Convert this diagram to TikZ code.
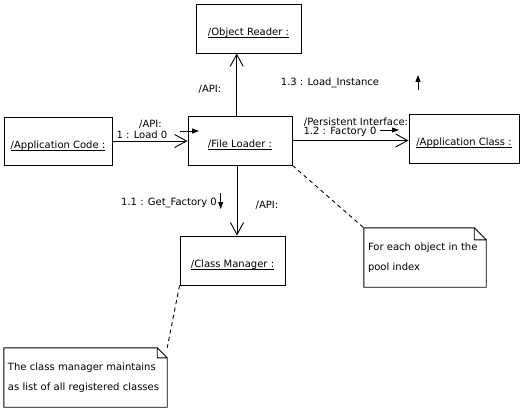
\documentclass[tikz,border=0pt]{standalone}
\usepackage{fontspec}
\setmainfont{DejaVu Sans}
\usetikzlibrary{arrows.meta}
\newlength{\objwd}
\newcommand{\objname}[1]{\settowidth{\objwd}{#1}%
    \raisebox{-4.5pt}[\height][\depth]{#1\llap{\rule[-2.4pt]{\objwd}{0.8pt}}}}

\begin{document}
\begin{tikzpicture}[x=1pt,y=-1pt,
    every node/.style={font=\fontsize{10}{12}\selectfont},
    objbox/.style={draw, line width=0.9pt, minimum height=49pt, inner sep=0pt},
    link/.style={line width=0.9pt, -{Straight Barb[length=12pt,width=13pt,line width=0.9pt]}},
    msgarrow/.style={line width=0.9pt, -{Triangle[length=7pt,width=5pt]}},
    notebox/.style={inner xsep=4pt, inner ysep=0pt, minimum height=59pt, align=left,
        font=\fontsize{10}{19.5}\selectfont},
    noteline/.style={line width=0.9pt, dash pattern=on 4pt off 3.5pt}]
    \useasboundingbox (0,0) rectangle (523,412);

    % objects
    \node[objbox, minimum width=105pt] (reader) at (248.5,28.5) {\objname{/Object Reader :}};
    \node[objbox, minimum width=108pt, minimum height=48pt] (appcode) at (58,141) {\objname{/Application Code :}};
    \node[objbox, minimum width=104pt] (loader) at (240,140.5) {\objname{/File Loader :}};
    \node[objbox, minimum width=110pt] (appclass) at (464,138.5) {\objname{/Application Class :}};
    \node[objbox, minimum width=105pt] (manager) at (232.5,260.5) {\objname{/Class Manager :}};

    % notes
    \node[notebox, minimum width=122pt, text width=114pt] (eachnote) at (425,257.5)
        {For each object in the\\pool index};
    \node[notebox, minimum width=163pt, text width=155pt] (classnote) at (85.5,377.5)
        {The class manager maintains\\as list of all registered classes};
    \foreach \n/\f in {eachnote/12, classnote/10}
    {
        \draw[line width=0.9pt] (\n.north west) -- ([xshift=-\f pt]\n.north east)
            -- ([yshift=-\f pt]\n.north east) -- (\n.south east) -- (\n.south west) -- cycle
            ([xshift=-\f pt]\n.north east) |- ([yshift=-\f pt]\n.north east);
    };

    % links
    \draw[link] (appcode.east) -- (appcode.east -| loader.west);
    \draw[link] ([xshift=-3.3pt]loader.north) -- ([xshift=-3.3pt]loader.north |- reader.south);
    \draw[link] (loader.east) -- (loader.east -| appclass.west);
    \draw[link] ([xshift=-3pt]loader.south) -- ([xshift=-3pt]loader.south |- manager.north);
    \draw[noteline] (loader.south east) -- (eachnote.north west);
    \draw[noteline] (manager.south west) -- (classnote.north east);

    % link labels
    \node (apiload) at (150.5,124) {/API:};
    \node (loadmsg) at (142,135) {1 : Load 0};
    \node (apireader) at (210,89) {/API:};
    \node (instmsg) at (330,83) {1.3 : Load\_Instance};
    \node (persist) at (356,122.5) {/Persistent Interface:};
    \node (factmsg) at (340,132) {1.2 : Factory 0};
    \node (getmsg) at (169,203) {1.1 : Get\_Factory 0};
    \node (apimanager) at (267,205) {/API:};

    % message arrows
    \coordinate (loadtail) at (180,131);
    \coordinate (loadtip) at (199,131);
    \coordinate (facttail) at (380,130);
    \coordinate (facttip) at (399,130);
    \coordinate (gettail) at (220.7,193);
    \coordinate (gettip) at (220.7,209);
    \coordinate (insttail) at (418,90);
    \coordinate (insttip) at (418,75);
    \foreach \a/\b in {loadtail/loadtip, facttail/facttip, gettail/gettip, insttail/insttip}
        \draw[msgarrow] (\a) -- (\b);
\end{tikzpicture}
\end{document}
